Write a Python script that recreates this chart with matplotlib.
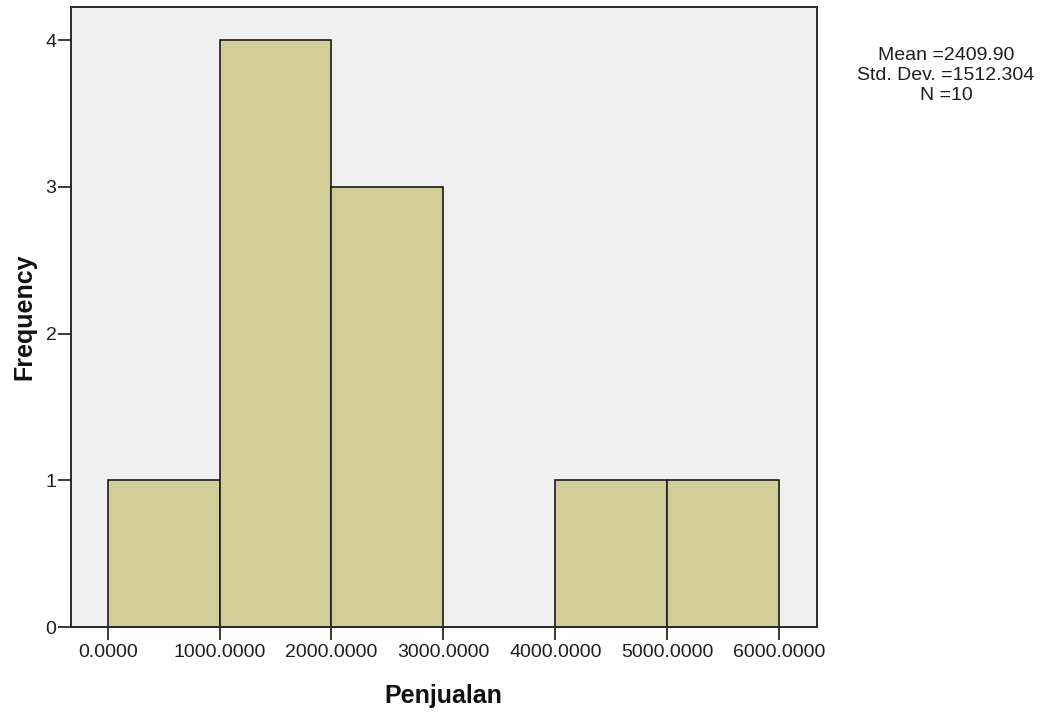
import matplotlib
matplotlib.use("Agg")
import matplotlib.pyplot as plt

# Data
bin_edges = [0, 1000, 2000, 3000, 4000, 5000, 6000]
counts = [1, 4, 3, 0, 1, 1]
x_ticks = [0, 1000, 2000, 3000, 4000, 5000, 6000]
x_tick_labels = ["0.0000", "1000.0000", "2000.0000", "3000.0000", "4000.0000", "5000.0000", "6000.0000"]
y_ticks = [0, 1, 2, 3, 4]
stats_lines = ["Mean =2409.90", "Std. Dev. =1512.304", "N =10"]
x_label = "Penjualan"
y_label = "Frequency"

plt.rcParams['font.family'] = ['Liberation Sans', 'DejaVu Sans']

W, H = 1042, 712
fig = plt.figure(figsize=(W / 100, H / 100), dpi=100)
ax = fig.add_axes([71 / W, 1 - 627 / H, (817 - 71) / W, (627 - 7) / H])
ax.set_facecolor('#F0F0F0')

widths = [bin_edges[i + 1] - bin_edges[i] for i in range(len(counts))]
ax.bar(bin_edges[:-1], counts, width=widths, align='edge',
       color='#D3CE97', edgecolor='#1a1a1a', linewidth=1.2, zorder=2)

ax.set_xlim(-328, 6339)
ax.set_ylim(0, 4.226)
ax.set_xticks(x_ticks)
ax.set_xticklabels(x_tick_labels)
ax.set_yticks(y_ticks)
ax.set_yticklabels([str(v) for v in y_ticks])
ax.tick_params(axis='both', direction='out', length=9.5, width=1.2, colors='#1a1a1a',
               labelsize=14, labelcolor='#1e1e1e')
ax.tick_params(axis='x', pad=3)
ax.tick_params(axis='y', pad=1)
for s in ax.spines.values():
    s.set_color('#2a2a2a')
    s.set_linewidth(1.4)

fig.text(443 / W, 1 - 703 / H, x_label, ha='center', va='baseline',
         fontsize=18, fontweight='bold', color='#111111')
fig.text(24 / W, 1 - 317 / H, y_label, ha='center', va='center', rotation=90,
         fontsize=18, fontweight='bold', color='#111111')

for i, line in enumerate(stats_lines):
    fig.text(946 / W, 1 - (60 + 20 * i) / H, line, ha='center', va='baseline',
             fontsize=14, color='#1e1e1e')

fig.savefig("out.png", dpi=100, facecolor='white')
